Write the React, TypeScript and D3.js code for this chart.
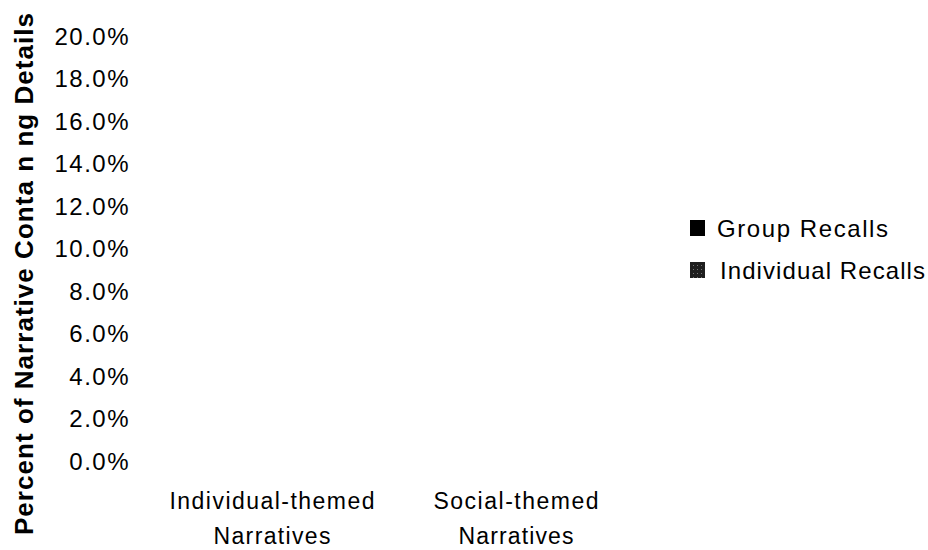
import React from "react";
import * as d3 from "d3";

const categories: string[][] = [
  ["Individual-themed", "Narratives"],
  ["Social-themed", "Narratives"],
];
const seriesNames = ["Group Recalls", "Individual Recalls"];
const groupRecalls = [0, 0];
const individualRecalls = [0, 0];
const yTicks = [0, 2, 4, 6, 8, 10, 12, 14, 16, 18, 20];
const yTitle = "Percent of Narrative Conta n ng Details";

const W = 928;
const H = 550;
const FONT = "'Liberation Sans', Arial, Helvetica, sans-serif";

export default function App() {
  const y = d3.scaleLinear().domain([0, 20]).range([461, 36]);
  const x0 = d3
    .scaleBand<number>()
    .domain(categories.map((_, i) => i))
    .range([150, 638])
    .paddingInner(0.3)
    .paddingOuter(0.15);
  const x1 = d3
    .scaleBand<number>()
    .domain([0, 1])
    .range([0, x0.bandwidth()])
    .padding(0.05);
  const series = [groupRecalls, individualRecalls];
  const fills = ["#000000", "url(#speckle)"];
  const labelWidths = [
    [205, 117],
    [165, 115],
  ];
  const legendWidths = [171, 205];
  const legendX = [717, 720];

  return (
    <svg
      width={W}
      height={H}
      style={{ position: "absolute", left: 0, top: 0, background: "#fff" }}
      fontFamily={FONT}
    >
      <defs>
        <pattern id="speckle" width="4" height="4" patternUnits="userSpaceOnUse">
          <rect width="4" height="4" fill="#1e1e1e" />
          <rect x="1" y="1" width="1" height="1" fill="#777" />
        </pattern>
      </defs>

      {/* y title */}
      <text
        transform={`translate(33,274) rotate(-90)`}
        textAnchor="middle"
        fontWeight="bold"
        fontSize={26}
        textLength={522}
        lengthAdjust="spacing"
        fill="#000"
      >
        {yTitle}
      </text>

      {/* y tick labels */}
      {yTicks.map((t) => (
        <text
          key={t}
          x={130}
          y={y(t)}
          dy="0.36em"
          textAnchor="end"
          fontSize={24}
          letterSpacing={1.5}
          fill="#000"
        >
          {d3.format(".1f")(t) + "%"}
        </text>
      ))}

      {/* bars (zero height as in reference) */}
      {series.map((vals, s) =>
        vals.map((v, i) => (
          <rect
            key={`${s}-${i}`}
            x={(x0(i) ?? 0) + (x1(s) ?? 0)}
            y={y(v)}
            width={x1.bandwidth()}
            height={y(0) - y(v)}
            fill={fills[s]}
          />
        ))
      )}

      {/* x labels */}
      {categories.map((lines, i) => {
        const cx = (x0(i) ?? 0) + x0.bandwidth() / 2;
        return lines.map((ln, j) => (
          <text
            key={`${i}-${j}`}
            x={cx}
            y={509 + j * 35}
            textAnchor="middle"
            fontSize={23}
            textLength={labelWidths[i][j]}
            lengthAdjust="spacing"
            fill="#000"
          >
            {ln}
          </text>
        ));
      })}

      {/* legend */}
      {seriesNames.map((name, i) => (
        <g key={name}>
          <rect x={690} y={220 + i * 42} width={15} height={16} fill={fills[i]} />
          <text
            x={legendX[i]}
            y={237 + i * 42}
            fontSize={24}
            textLength={legendWidths[i]}
            lengthAdjust="spacing"
            fill="#000"
          >
            {name}
          </text>
        </g>
      ))}
    </svg>
  );
}
